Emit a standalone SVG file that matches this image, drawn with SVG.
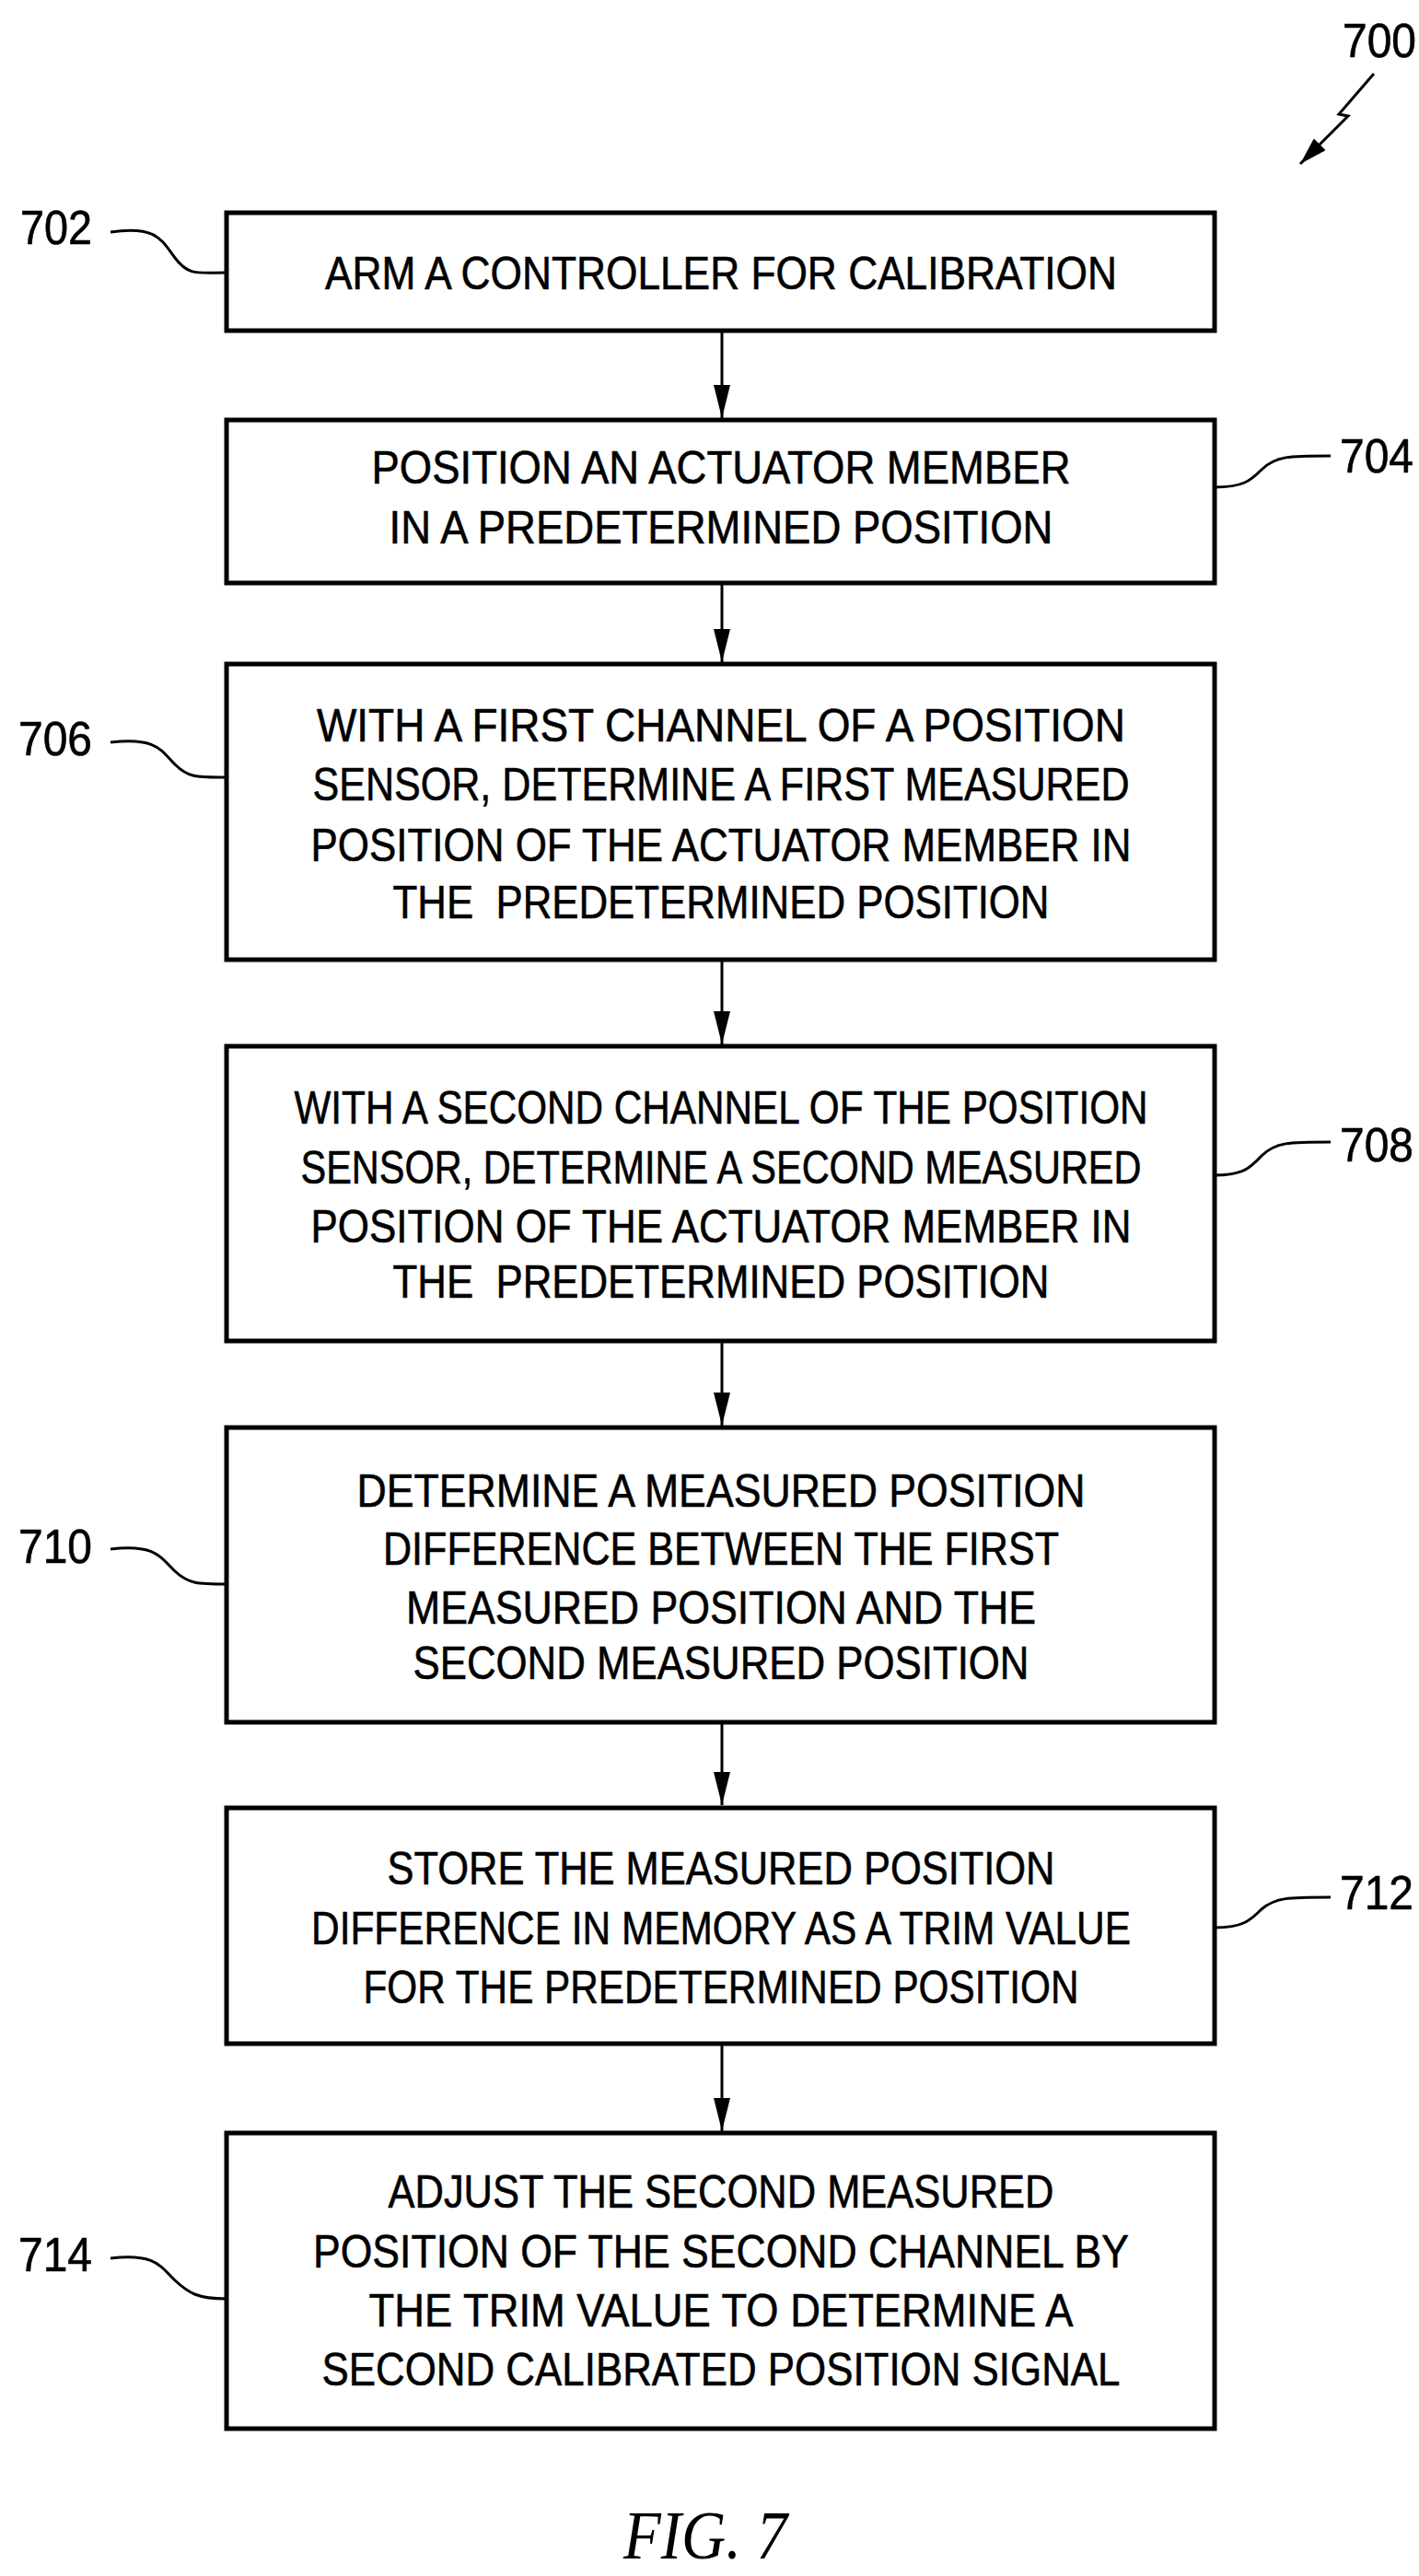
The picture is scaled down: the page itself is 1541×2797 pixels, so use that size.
<svg xmlns="http://www.w3.org/2000/svg" width="1541" height="2797" viewBox="0 0 1541 2797">
<style>
.box{fill:#fff;stroke:#000;stroke-width:5}
.t{font-family:"Liberation Sans",Arial,sans-serif;font-size:50px;text-anchor:middle;stroke:#000;stroke-width:0.6}
.l{font-family:"Liberation Sans",Arial,sans-serif;font-size:52px;stroke:#000;stroke-width:0.6}
.ld{fill:none;stroke:#000;stroke-width:3}
.c{stroke:#000;stroke-width:3;fill:none;marker-end:url(#ah)}
</style>
<defs>
<marker id="ah" markerWidth="36" markerHeight="18" refX="36" refY="9" orient="auto" markerUnits="userSpaceOnUse" viewBox="0 0 36 18"><path d="M0,0 L36,9 L0,18 Z" fill="#000"/></marker>
<marker id="ah2" markerWidth="30" markerHeight="18" refX="30" refY="9" orient="auto" markerUnits="userSpaceOnUse" viewBox="0 0 30 18"><path d="M0,0 L30,9 L0,18 Z" fill="#000"/></marker>
</defs>
<g id="connectors">
<line class="c" x1="784" y1="359" x2="784" y2="454"/>
<line class="c" x1="784" y1="633" x2="784" y2="719"/>
<line class="c" x1="784" y1="1042" x2="784" y2="1134"/>
<line class="c" x1="784" y1="1456" x2="784" y2="1548"/>
<line class="c" x1="784" y1="1870" x2="784" y2="1960"/>
<line class="c" x1="784" y1="2219" x2="784" y2="2314"/>
</g>
<g id="n700">
<text class="l" x="1538" y="62" text-anchor="end" textLength="80" lengthAdjust="spacingAndGlyphs">700</text>
<path d="M1492,80 L1454,124 L1464,126 L1412,178" fill="none" stroke="#000" stroke-width="3" marker-end="url(#ah2)"/>
</g>
<g id="n702">
<rect class="box" x="246" y="231" width="1073" height="128"/>
<text class="t" x="783" y="314" textLength="860" lengthAdjust="spacingAndGlyphs">ARM A CONTROLLER FOR CALIBRATION</text>
<text class="l" x="22" y="265" textLength="78" lengthAdjust="spacingAndGlyphs">702</text>
<path class="ld" d="M120,252 C170,245 175,260 190,280 C205,300 215,296 246,296"/>
</g>
<g id="n704">
<rect class="box" x="246" y="456" width="1073" height="177"/>
<text class="t" x="783" y="525" textLength="759" lengthAdjust="spacingAndGlyphs">POSITION AN ACTUATOR MEMBER</text>
<text class="t" x="783" y="590" textLength="721" lengthAdjust="spacingAndGlyphs">IN A PREDETERMINED POSITION</text>
<text class="l" x="1455" y="513" textLength="80" lengthAdjust="spacingAndGlyphs">704</text>
<path class="ld" d="M1319,529 C1350,529 1358,522 1370,510 C1385,495 1400,495 1445,495"/>
</g>
<g id="n706">
<rect class="box" x="246" y="721" width="1073" height="321"/>
<text class="t" x="783" y="805" textLength="878" lengthAdjust="spacingAndGlyphs">WITH A FIRST CHANNEL OF A POSITION</text>
<text class="t" x="783" y="869" textLength="887" lengthAdjust="spacingAndGlyphs">SENSOR, DETERMINE A FIRST MEASURED</text>
<text class="t" x="783" y="935" textLength="891" lengthAdjust="spacingAndGlyphs">POSITION OF THE ACTUATOR MEMBER IN</text>
<text class="t" x="783" y="997" textLength="713" lengthAdjust="spacingAndGlyphs" xml:space="preserve">THE  PREDETERMINED POSITION</text>
<text class="l" x="20" y="820" textLength="80" lengthAdjust="spacingAndGlyphs">706</text>
<path class="ld" d="M120,806 C170,800 175,815 190,830 C205,845 215,844 246,844"/>
</g>
<g id="n708">
<rect class="box" x="246" y="1136" width="1073" height="320"/>
<text class="t" x="783" y="1220" textLength="927" lengthAdjust="spacingAndGlyphs">WITH A SECOND CHANNEL OF THE POSITION</text>
<text class="t" x="783" y="1285" textLength="913" lengthAdjust="spacingAndGlyphs">SENSOR, DETERMINE A SECOND MEASURED</text>
<text class="t" x="783" y="1349" textLength="891" lengthAdjust="spacingAndGlyphs">POSITION OF THE ACTUATOR MEMBER IN</text>
<text class="t" x="783" y="1409" textLength="713" lengthAdjust="spacingAndGlyphs" xml:space="preserve">THE  PREDETERMINED POSITION</text>
<text class="l" x="1455" y="1261" textLength="80" lengthAdjust="spacingAndGlyphs">708</text>
<path class="ld" d="M1319,1276 C1350,1276 1358,1268 1370,1255 C1385,1240 1400,1240 1445,1240"/>
</g>
<g id="n710">
<rect class="box" x="246" y="1550" width="1073" height="320"/>
<text class="t" x="783" y="1636" textLength="791" lengthAdjust="spacingAndGlyphs">DETERMINE A MEASURED POSITION</text>
<text class="t" x="783" y="1699" textLength="734" lengthAdjust="spacingAndGlyphs">DIFFERENCE BETWEEN THE FIRST</text>
<text class="t" x="783" y="1763" textLength="684" lengthAdjust="spacingAndGlyphs">MEASURED POSITION AND THE</text>
<text class="t" x="783" y="1823" textLength="669" lengthAdjust="spacingAndGlyphs">SECOND MEASURED POSITION</text>
<text class="l" x="20" y="1697" textLength="80" lengthAdjust="spacingAndGlyphs">710</text>
<path class="ld" d="M120,1682 C170,1676 175,1692 190,1706 C205,1720 215,1720 246,1720"/>
</g>
<g id="n712">
<rect class="box" x="246" y="1963" width="1073" height="256"/>
<text class="t" x="783" y="2046" textLength="725" lengthAdjust="spacingAndGlyphs">STORE THE MEASURED POSITION</text>
<text class="t" x="783" y="2111" textLength="890" lengthAdjust="spacingAndGlyphs">DIFFERENCE IN MEMORY AS A TRIM VALUE</text>
<text class="t" x="783" y="2175" textLength="777" lengthAdjust="spacingAndGlyphs">FOR THE PREDETERMINED POSITION</text>
<text class="l" x="1455" y="2073" textLength="80" lengthAdjust="spacingAndGlyphs">712</text>
<path class="ld" d="M1319,2093 C1350,2093 1358,2085 1370,2073 C1385,2060 1400,2060 1445,2060"/>
</g>
<g id="n714">
<rect class="box" x="246" y="2316" width="1073" height="321"/>
<text class="t" x="783" y="2397" textLength="723" lengthAdjust="spacingAndGlyphs">ADJUST THE SECOND MEASURED</text>
<text class="t" x="783" y="2462" textLength="886" lengthAdjust="spacingAndGlyphs">POSITION OF THE SECOND CHANNEL BY</text>
<text class="t" x="783" y="2526" textLength="765" lengthAdjust="spacingAndGlyphs">THE TRIM VALUE TO DETERMINE A</text>
<text class="t" x="783" y="2590" textLength="867" lengthAdjust="spacingAndGlyphs">SECOND CALIBRATED POSITION SIGNAL</text>
<text class="l" x="20" y="2466" textLength="80" lengthAdjust="spacingAndGlyphs">714</text>
<path class="ld" d="M120,2452 C170,2446 175,2462 190,2476 C205,2490 215,2496 246,2496"/>
</g>
<text x="766" y="2778" text-anchor="middle" font-family="Liberation Serif,'Times New Roman',serif" font-style="italic" font-size="74" textLength="178" lengthAdjust="spacingAndGlyphs">FIG. 7</text>
</svg>
